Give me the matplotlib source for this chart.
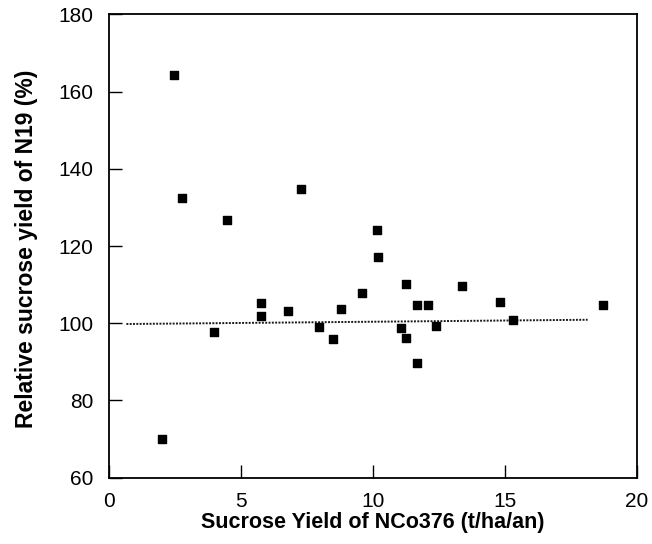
import matplotlib
matplotlib.use("Agg")
import matplotlib.pyplot as plt

# Data
yield_nco376 = [2.45, 2.76, 4.47, 7.27, 10.17, 10.18, 11.26, 13.36, 9.57,
                5.76, 5.76, 6.78, 8.79, 11.68, 12.07, 14.80, 18.72,
                3.97, 7.97, 8.49, 11.07, 11.26, 12.37, 15.30, 11.68, 1.99]
relative_n19 = [164.2, 132.4, 126.8, 134.8, 124.1, 117.1, 110.1, 109.6, 107.8,
                105.3, 101.9, 103.1, 103.8, 104.7, 104.7, 105.4, 104.7,
                97.8, 99.1, 95.9, 98.8, 96.1, 99.2, 100.8, 89.8, 70.1]
ref_line_x = [0.66, 18.13]
ref_line_y = [99.8, 100.9]

x_ticks = [0, 5, 10, 15, 20]
y_ticks = [60, 80, 100, 120, 140, 160, 180]

plt.rcParams['font.family'] = ['Liberation Sans', 'DejaVu Sans']

fig = plt.figure(figsize=(6.52, 5.44), dpi=100)
ax = fig.add_axes([109/652, 1 - 477.7/544, (637-109)/652, (477.7-14.3)/544])

ax.plot(ref_line_x, ref_line_y, color='#1a1a1a', linestyle=(0, (1, 0.7)), linewidth=1.4)
ax.scatter(yield_nco376, relative_n19, marker='s', s=26, color='black', zorder=3)

ax.set_xlim(0, 20)
ax.set_ylim(60, 180)
ax.set_xticks(x_ticks)
ax.set_yticks(y_ticks)
ax.tick_params(direction='in', length=9.5, width=1.0, labelsize=15, color='black')
ax.tick_params(axis='x', pad=10)
ax.tick_params(axis='y', pad=11)
for sp in ax.spines.values():
    sp.set_linewidth(1.3)

ax.set_xlabel('Sucrose Yield of NCo376 (t/ha/an)', fontsize=15.5, fontweight='bold')
ax.set_ylabel('Relative sucrose yield of N19 (%)', fontsize=16.5, fontweight='bold')
ax.xaxis.set_label_coords(0.5, -0.074)
ax.yaxis.set_label_coords(-0.134, 0.495)

fig.savefig('out.png', dpi=100)
